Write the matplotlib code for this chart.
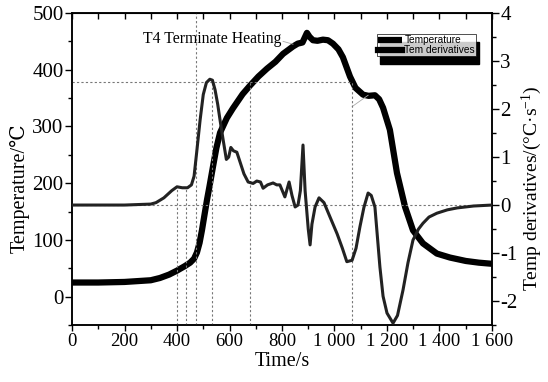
import numpy as np
import matplotlib
matplotlib.use("Agg")
import matplotlib.pyplot as plt
from matplotlib.ticker import MultipleLocator, FuncFormatter, NullFormatter
from matplotlib.patches import Rectangle

plt.rcParams['font.family'] = ['Liberation Serif', 'DejaVu Serif', 'DejaVu Sans']
plt.rcParams['mathtext.fontset'] = 'custom'
plt.rcParams['mathtext.rm'] = 'Liberation Serif'
plt.rcParams['mathtext.it'] = 'Liberation Serif:italic'

# temperature history, s / degC
t_temp = [0, 100, 200, 300, 335, 370, 400, 430, 450, 465, 476, 486, 495, 505,
          514, 524, 537, 550, 564, 590, 613, 650, 678, 710, 743, 775, 804, 842,
          860, 878, 895, 905, 918, 935, 956, 975, 994, 1015, 1032, 1059, 1080,
          1109, 1130, 1154, 1170, 1185, 1211, 1238, 1269, 1299, 1337, 1390,
          1440, 1500, 1550, 1600]
temp = [25, 25, 26, 29, 33, 39, 46, 54, 60, 67, 78, 95, 117, 145,
        170, 195, 229, 262, 289, 315, 332, 357, 372, 388, 402, 414, 428, 441,
        446, 448, 465, 458, 452, 451, 453, 452, 446, 436, 422, 388, 368,
        356, 354, 355, 348, 333, 294, 218, 158, 117, 94, 76,
        69, 63, 60, 58]

# temperature derivative, degC/s
t_der = [0, 100, 200, 300, 320, 350, 380, 400, 420, 440, 455, 465, 475, 488,
         500, 512, 525, 535, 545, 555, 564, 576, 588, 597, 605, 615, 628, 640, 655,
         671, 690, 704, 718, 728, 745, 766, 780, 792, 811, 827, 838, 850, 861,
         870, 880, 888, 900, 907, 914, 926, 941, 960, 983, 1010, 1030, 1047,
         1067, 1082, 1097, 1112, 1128, 1140, 1154, 1173, 1185, 1200, 1223,
         1240, 1261, 1280, 1299, 1320, 1337, 1360, 1390, 1430, 1467, 1530, 1600]
deriv = [0, 0, 0, 0.02, 0.05, 0.15, 0.3, 0.38, 0.36, 0.36, 0.42, 0.6, 1.1, 1.77,
         2.3, 2.55, 2.62, 2.6, 2.4, 2.1, 1.77, 1.35, 0.95, 1.0, 1.2, 1.13, 1.1, 0.9, 0.65,
         0.48, 0.45, 0.5, 0.48, 0.35, 0.42, 0.46, 0.42, 0.42, 0.17, 0.48, 0.2, -0.04, 0,
         0.3, 1.25, 0.3, -0.5, -0.83, -0.4, -0.04, 0.15, 0.05, -0.25, -0.6, -0.9, -1.18,
         -1.15, -0.9, -0.45, -0.05, 0.25, 0.2, -0.04, -1.29, -1.9, -2.25, -2.46,
         -2.3, -1.77, -1.2, -0.73, -0.5, -0.38, -0.25, -0.17, -0.1, -0.06, -0.02, 0]

# reference marks on the derivative axis
t_short = [400, 434]          # up to the first shoulder
d_short = 0.38
t_full = 474                  # whole height
t_peak = [532, 678, 1067]     # up to the peak level
d_peak = 2.57

fig = plt.figure(figsize=(5.48, 3.82), dpi=100)
ax = fig.add_axes([0.1314, 0.149, 0.7664, 0.817])
ax2 = ax.twinx()

grid_kw = dict(color='#777777', lw=0.8, ls=(0, (2, 2)), zorder=1)
ax2.axhline(0, **grid_kw)
ax2.hlines(d_peak, 0, t_peak[-1], **grid_kw)
ax2.vlines(t_short, -2.5, d_short, **grid_kw)
ax2.axvline(t_full, **grid_kw)
ax2.vlines(t_peak, -2.5, d_peak, **grid_kw)

l1, = ax.plot(t_temp, temp, color='black', lw=4.5, solid_capstyle='butt',
              label='Temperature')
l2, = ax2.plot(t_der, deriv, color='#222222', lw=2.2, zorder=3,
               label='Tem derivatives')

ax.set_xlim(0, 1600)
ax.set_ylim(-50, 500)
ax2.set_ylim(-2.5, 4)

ax.xaxis.set_major_locator(MultipleLocator(200))
ax.xaxis.set_minor_locator(MultipleLocator(100))
ax.yaxis.set_major_locator(MultipleLocator(100))
ax.yaxis.set_minor_locator(MultipleLocator(50))
ax2.yaxis.set_major_locator(MultipleLocator(1))
ax2.yaxis.set_minor_locator(MultipleLocator(0.5))
ax.xaxis.set_major_formatter(FuncFormatter(lambda v, p: f"{int(v):,}".replace(",", " ")))
ax2.yaxis.set_major_formatter(FuncFormatter(lambda v, p: f"{v:g}"))

ax.tick_params(axis='x', which='major', direction='out', length=4, width=1, labelsize=13.5, pad=2)
ax.tick_params(axis='x', which='minor', direction='out', length=3, width=1)
ax.tick_params(axis='y', which='major', direction='out', length=5, width=1, labelsize=15, pad=1)
ax.tick_params(axis='y', which='minor', direction='out', length=3, width=1)
ax2.tick_params(axis='y', which='major', direction='out', length=5, width=1, labelsize=15, pad=1)
ax2.tick_params(axis='y', which='minor', direction='out', length=3, width=1)

top = ax.secondary_xaxis('top')
top.set_xticks(np.arange(0, 1601, 100))
top.xaxis.set_major_formatter(NullFormatter())
top.tick_params(direction='in', length=4, width=1)

for a in (ax, ax2):
    for s in a.spines.values():
        s.set_linewidth(1.1)

ax.set_xlabel('Time/s', fontsize=14.5, labelpad=1)
ax.set_ylabel('Temperature/℃', fontsize=14.5)
ax2.set_ylabel(r'Temp derivatives/(°C·s$^{-1}$)', fontsize=14)
ax.yaxis.set_label_coords(-0.1, 0.44)
ax2.yaxis.set_label_coords(1.067, 0.44)

ax.text(270, 454, 'T4 Terminate Heating', fontsize=11.3, va='center', ha='left')
ax.plot([804, 842], [450, 445], color='#aaaaaa', lw=0.6)
ax.plot([1067, 1128], [335, 355], color='#aaaaaa', lw=0.6)

leg = ax2.legend([l1, l2], ['Temperature', 'Tem derivatives'],
                 loc='upper right', bbox_to_anchor=(0.962, 0.933),
                 prop={'family': 'Liberation Sans', 'size': 7.3},
                 frameon=True, fancybox=False, edgecolor='black',
                 borderpad=0.1, labelspacing=0.0, handlelength=2.4,
                 handleheight=0.5, handletextpad=0.25, borderaxespad=0)
leg.get_frame().set_linewidth(0.6)
for h in leg.get_lines():
    h.set_linewidth(4.5)
    h.set_color('black')
leg.set_zorder(10)

# drop shadow under the legend box
fig.canvas.draw()
bb = leg.get_window_extent().transformed(fig.transFigure.inverted())
dx, dy = 3 / 548, 8 / 382
shadow = Rectangle((bb.x0 + dx, bb.y0 - dy), bb.width, bb.height,
                   transform=fig.transFigure, color='black', zorder=9)
ax2.add_artist(shadow)

fig.savefig('out.png', dpi=100)
